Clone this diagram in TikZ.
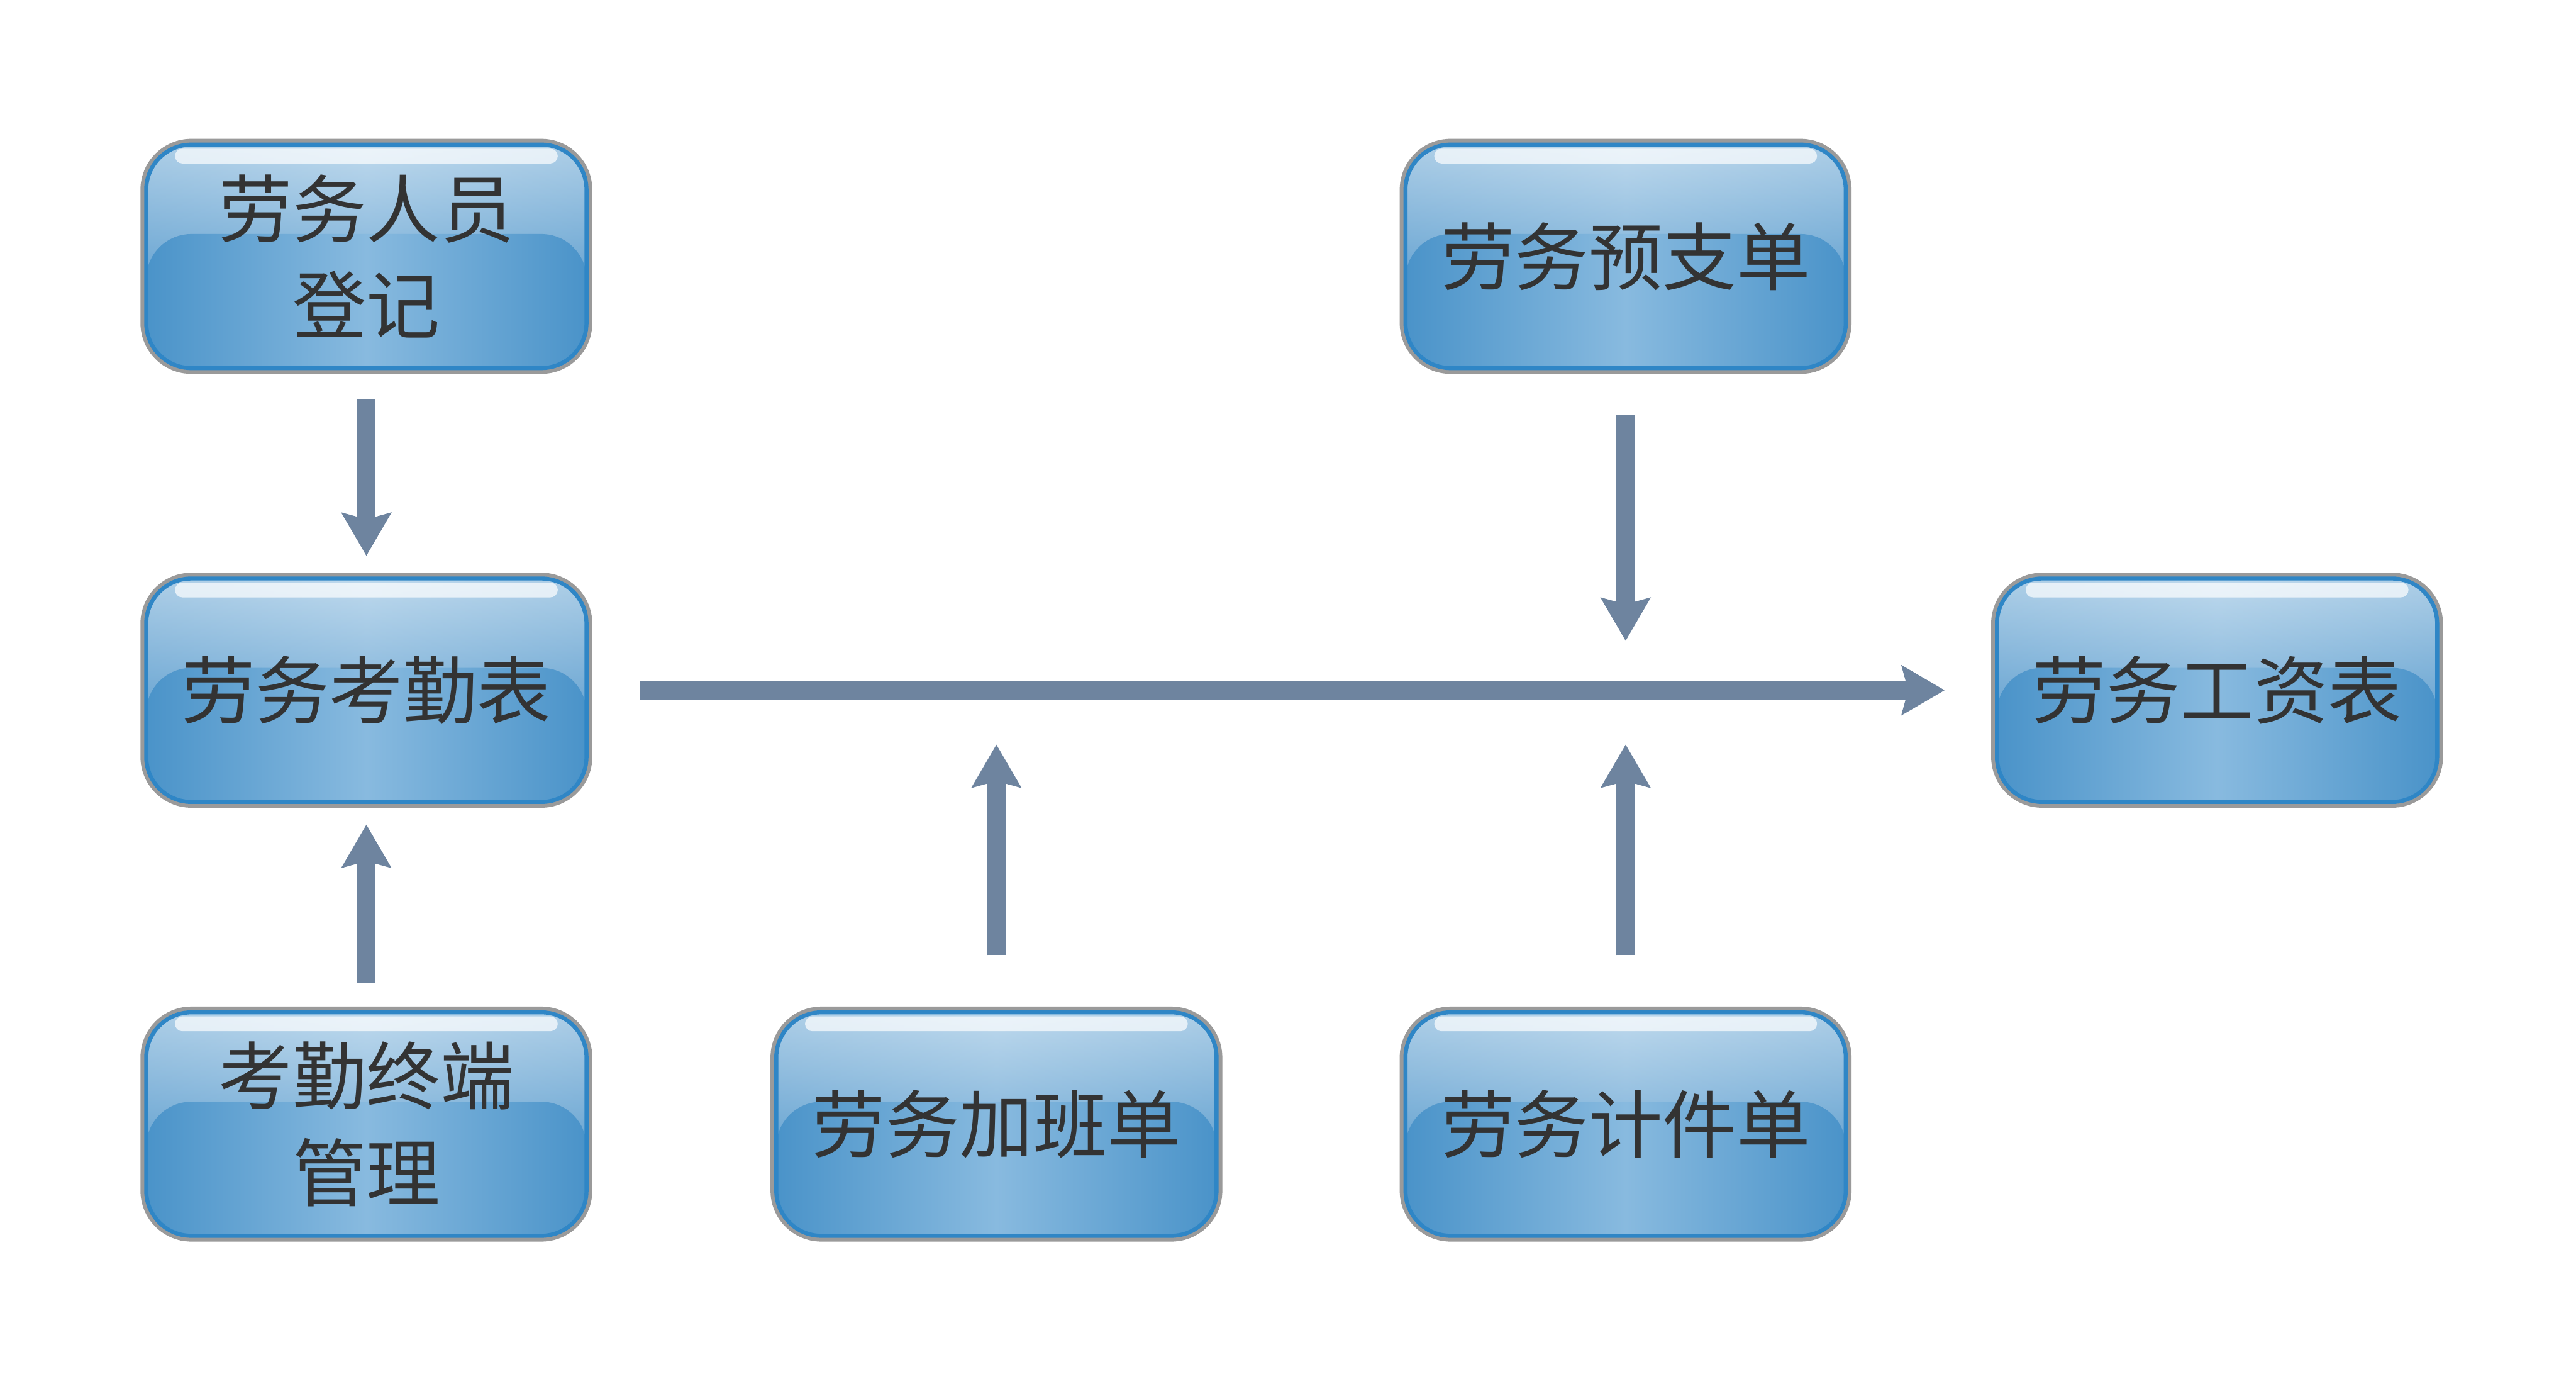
\documentclass[tikz,border=0pt]{standalone}
\usepackage{fontspec}
\newfontfamily\cjk{Noto Sans CJK SC}
\usetikzlibrary{arrows.meta,calc}
\definecolor{ink}{HTML}{333333}
\definecolor{rimgray}{HTML}{9A9A9A}
\definecolor{rimblue}{HTML}{2F86C6}
\definecolor{glasstop}{HTML}{D8E8F4}
\definecolor{glassbot}{HTML}{3A88C4}
\definecolor{paneledge}{HTML}{4A93C9}
\definecolor{panelcore}{HTML}{88BADF}
\definecolor{arrowgray}{HTML}{6E849F}
\tikzset{
  glassbox/.style={rounded corners=0.55cm, minimum width=5.36cm, minimum height=2.72cm,
    align=center, text=ink, font=\cjk\fontsize{25.6}{33.5}\selectfont,
    preaction={draw=rimgray, line width=4pt},
    draw=rimblue, line width=1.4pt,
    top color=glasstop, bottom color=glassbot,
    path picture={
      % darker sides
      \shade[left color=paneledge, right color=paneledge, middle color=panelcore, opacity=0.3]
        (path picture bounding box.south west) rectangle (path picture bounding box.north east);
      % lower glossy panel
      \shade[rounded corners=0.55cm, left color=paneledge, right color=paneledge,
             middle color=panelcore]
        ([yshift=-1cm]path picture bounding box.south west) rectangle
        ($(path picture bounding box.south east)!0.6!(path picture bounding box.north east)$);
      % highlight bar
      \fill[white, opacity=0.7, rounded corners=0.09cm]
        ([xshift=0.35cm,yshift=-0.05cm]path picture bounding box.north west) rectangle
        ([xshift=-0.35cm,yshift=-0.23cm]path picture bounding box.north east);
    }},
  fat/.style={line width=6.3pt, draw=arrowgray,
    -{Stealth[length=0.52cm, width=0.59cm, inset=0.075cm]}}
}
\begin{document}
\begin{tikzpicture}[x=1cm,y=1cm]
  \useasboundingbox (0,0) rectangle (31.36,16.72);
  % boxes
  \node[glassbox] (reg) at (4.46,13.6) {劳务人员\\登记};
  \node[glassbox] (att) at (4.46,8.32) {劳务考勤表};
  \node[glassbox] (term) at (4.46,3.04) {考勤终端\\管理};
  \node[glassbox] (ot) at (12.13,3.04) {劳务加班单};
  \node[glassbox] (adv) at (19.79,13.6) {劳务预支单};
  \node[glassbox] (piece) at (19.79,3.04) {劳务计件单};
  \node[glassbox] (pay) at (26.99,8.32) {劳务工资表};
  % points on the main line
  \coordinate (jadv) at (adv |- att);
  \coordinate (jot) at (ot |- att);
  \coordinate (jpiece) at (piece |- att);
  % arrows
  \draw[fat, shorten <=0.35cm, shorten >=0.25cm] (reg) -- (att);
  \draw[fat, shorten <=0.33cm, shorten >=0.25cm] (term) -- (att);
  \draw[fat, shorten <=0.63cm, shorten >=0.61cm] (att) -- (pay);
  \draw[fat, shorten <=0.55cm, shorten >=0.6cm] (adv) -- (jadv);
  \draw[fat, shorten <=0.67cm, shorten >=0.66cm] (ot) -- (jot);
  \draw[fat, shorten <=0.67cm, shorten >=0.66cm] (piece) -- (jpiece);
\end{tikzpicture}
\end{document}
